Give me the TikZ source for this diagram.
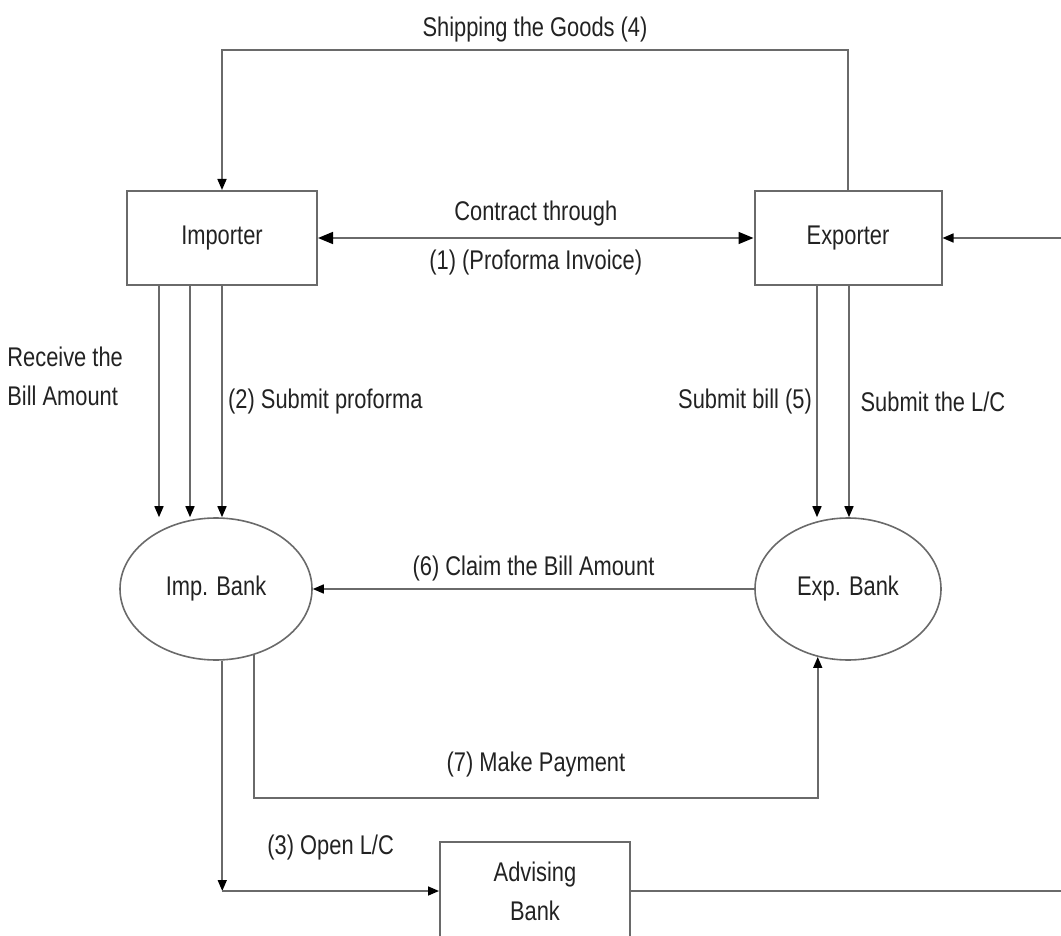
\documentclass[tikz,border=0pt]{standalone}
\usepackage{fontspec}
\setmainfont{Liberation Sans}[FakeStretch=0.81]
\usetikzlibrary{arrows.meta,shapes.geometric}

\definecolor{linegray}{HTML}{6A6A6A}
\definecolor{textgray}{HTML}{222222}
\newcommand{\lcfont}{\fontsize{27}{39}\selectfont}

\tikzstyle{party}=[draw=linegray,line width=2pt,rectangle,minimum width=190pt,minimum height=94pt,inner sep=0pt,font=\lcfont,text=textgray]
\tikzstyle{bank}=[draw=linegray,line width=1.6pt,ellipse,minimum width=192pt,minimum height=142pt,inner sep=0pt,font=\lcfont,text=textgray]
\tikzstyle{link}=[draw=linegray,line width=1.6pt,-{Triangle[length=11pt,width=9pt,color=black]}]
\tikzstyle{both}=[draw=linegray,line width=1.6pt,{Triangle[length=15pt,width=12pt,color=black]}-{Triangle[length=15pt,width=12pt,color=black]}]
\tikzstyle{msg}=[font=\lcfont,text=textgray]

\begin{document}
\begin{tikzpicture}[x=1pt, y=-1pt]
    \useasboundingbox (0,0) rectangle (1061,936);
    \clip (0,0) rectangle (1061,936);
    % First we draw the parties and the banks
    \node[party] (importer) at (222,238) {Importer};
    \node[party, minimum width=187pt] (exporter) at (848,238) {Exporter};
    \node[bank] (impbank) at (216,589) {Imp. Bank};
    \node[bank, minimum width=186pt] (expbank) at (848,589) {Exp. Bank};
    \node[party, minimum height=98pt, align=center] (advising) at (535,891) {Advising\\Bank};
    % Helper coordinates for the vertical links
    \foreach \x in {159,190,222,817,849}
        \coordinate (col\x) at (\x,0);
    \coordinate (shipR) at (848,50);
    \coordinate (shipL) at (222,50);
    \coordinate (payline) at (0,798);
    \coordinate (loopT) at (1075,238);
    % Shipping over the top and the contract
    \draw[link] (exporter.north) -- (shipR) -- node[msg, above=4pt] {Shipping the Goods (4)} (shipL) -- (importer.north);
    \draw[both] (importer.east) -- node[msg, above=8pt] {Contract through} node[msg, below=8pt] {(1) (Proforma Invoice)} (exporter.west);
    % Importer down to its bank
    \draw[link] (importer.south -| col159) -- node[msg, pos=0.39, left=32pt, align=left] {Receive the\\Bill Amount} (impbank.north -| col159);
    \draw[link] (importer.south -| col190) -- (impbank.north -| col190);
    \draw[link] (importer.south -| col222) -- node[msg, right=2pt] {(2) Submit proforma} (impbank.north -| col222);
    % Exporter down to its bank
    \draw[link] (exporter.south -| col817) -- node[msg, left=1pt] {Submit bill (5)} (expbank.north -| col817);
    \draw[link] (exporter.south -| col849) -- node[msg, right=7.5pt] {Submit the L/C} (expbank.north -| col849);
    % Between the banks
    \draw[link] (expbank.west) -- node[msg, above=4pt] {(6) Claim the Bill Amount} (impbank.east);
    \draw[link] (impbank.-60) |- node[msg, pos=0.75, above=17pt] {(7) Make Payment} (expbank.-114 |- payline) -- (expbank.-114);
    % Opening the L/C and back to the exporter
    \coordinate (lccorner) at (impbank.-85 |- advising.west);
    \draw[link] (impbank.-85) -- (lccorner);
    \draw[link] (lccorner) -- node[msg, above=27pt] {(3) Open L/C} (advising.west);
    \draw[link] (advising.east) -| (loopT) -- (exporter.east);
\end{tikzpicture}
\end{document}
